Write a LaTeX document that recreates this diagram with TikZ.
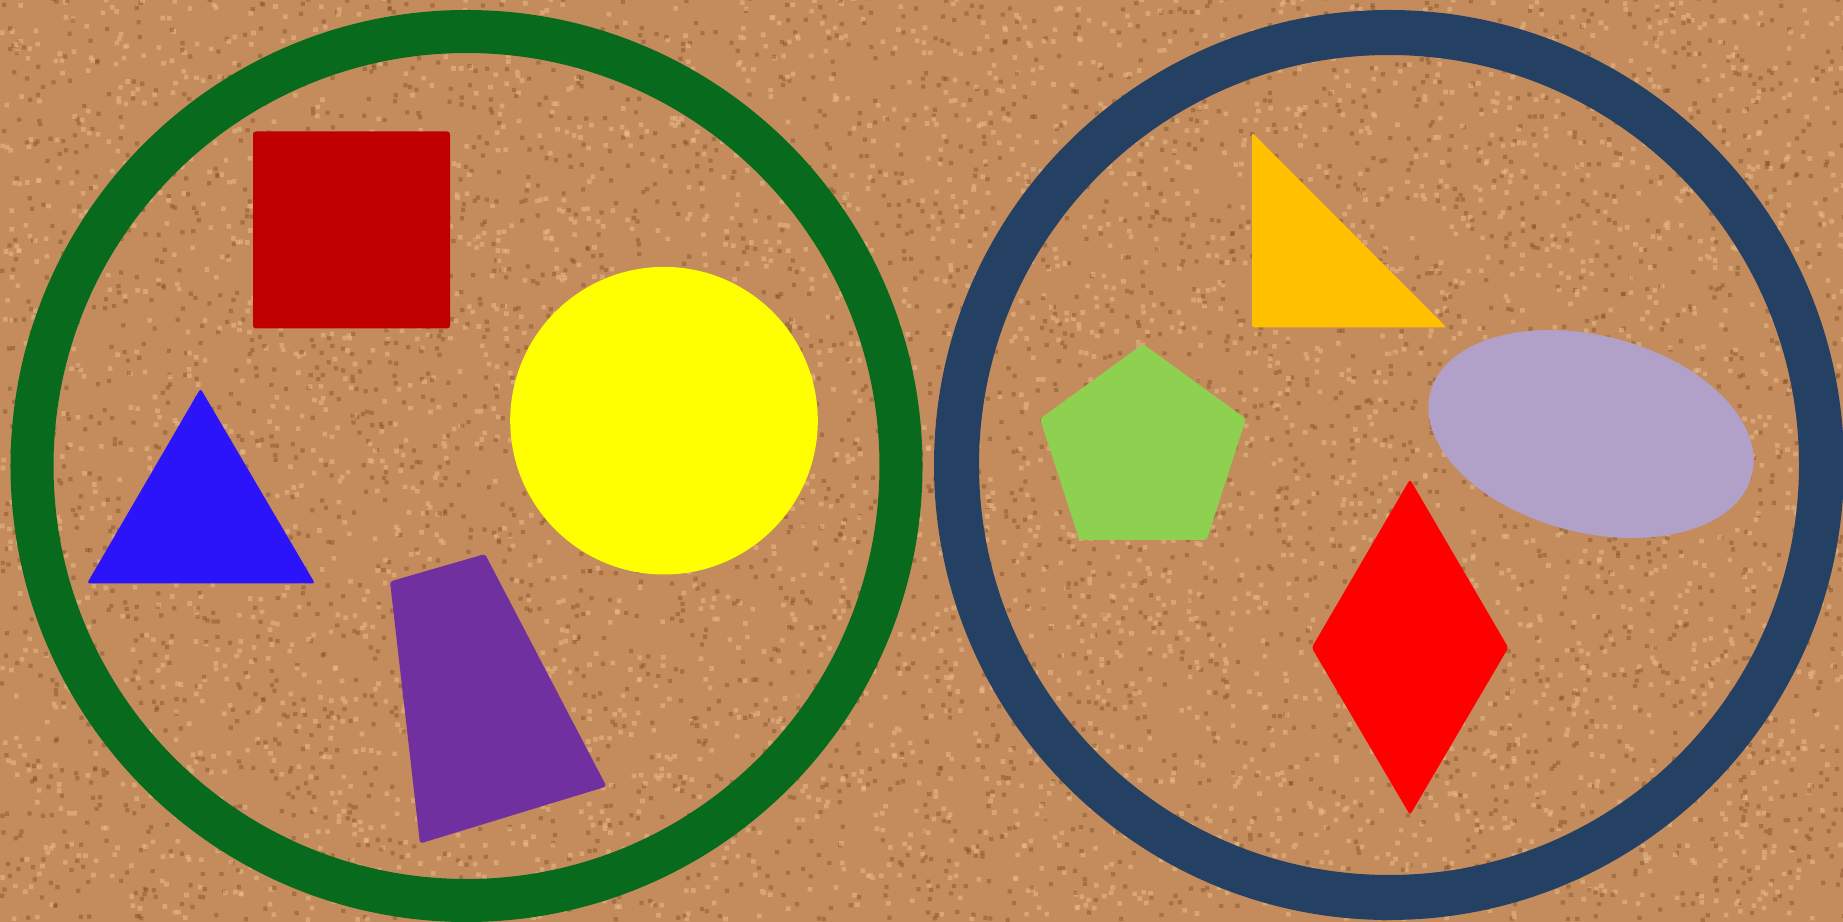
\documentclass[tikz,border=0pt]{standalone}
\usepackage{tikz}
\usetikzlibrary{calc}
\definecolor{corkbase}{RGB}{196,140,92}
\definecolor{corkdark}{RGB}{120,70,32}
\definecolor{corklight}{RGB}{236,190,140}
\definecolor{ringgreen}{RGB}{7,106,28}
\definecolor{ringblue}{RGB}{36,64,99}
\definecolor{sqred}{RGB}{192,0,0}
\definecolor{sunyellow}{RGB}{255,255,0}
\definecolor{triblue}{RGB}{44,20,250}
\definecolor{quadpurple}{RGB}{112,48,160}
\definecolor{triorange}{RGB}{255,192,0}
\definecolor{lilac}{RGB}{177,160,199}
\definecolor{leaf}{RGB}{142,208,80}

\begin{document}
\begin{tikzpicture}[x=0.01cm,y=0.01cm,
    piece/.style={line join=round,rounded corners=0.8pt},
    ring/.style={line width=#1}]
  \useasboundingbox (0,0) rectangle (1843,-922);
  % cork board
  \fill[corkbase] (0,0) rectangle (1843,-922);
  \pgfmathsetseed{4}
  \foreach \k in {1,...,10}{
    \fill[corkdark,opacity=0.4] \foreach \i in {1,...,400}{
      ({rnd*1843},{-rnd*922}) rectangle ++(4.2,4.2) };
    \fill[corklight,opacity=0.5] \foreach \i in {1,...,400}{
      ({rnd*1843},{-rnd*922}) rectangle ++(4.6,4.6) };
  }
  % the two rings
  \draw[ringgreen,ring=4.3mm] (466.5,-466) circle (434.5);
  \draw[ringblue,ring=4.5mm] (1389,-465) circle (432.5);
  % left ring: square, circle, triangle, quadrilateral
  \fill[sqred,piece] (253,-131.5) rectangle (450,-328.5);
  \fill[sunyellow] (664,-420.7) circle (153.8);
  \fill[triblue,piece] (200.5,-388.5) -- (315,-583.5) -- (87,-583.5) -- cycle;
  \fill[quadpurple,piece] (390,-581.5) -- (485,-554) -- (606.5,-786.5) -- (420,-843.5) -- cycle;
  % right ring: right triangle, ellipse, pentagon, rhombus
  \fill[triorange,piece] (1252,-132.5) -- (1446.5,-327.5) -- (1252,-327.5) -- cycle;
  \fill[lilac,rotate around={-14.4:(1591,-434)}] (1591,-434) ellipse [x radius=166,y radius=98.5];
  \fill[leaf,piece,shift={(1143,-452.3)}] (90:108.3)
       \foreach \a in {162,234,306,18}{ -- (\a:108.3) } -- cycle;
  \fill[red,piece] (1410,-479.3) -- (1508.3,-647.7) -- (1410,-815) -- (1311.7,-647.7) -- cycle;
\end{tikzpicture}
\end{document}
